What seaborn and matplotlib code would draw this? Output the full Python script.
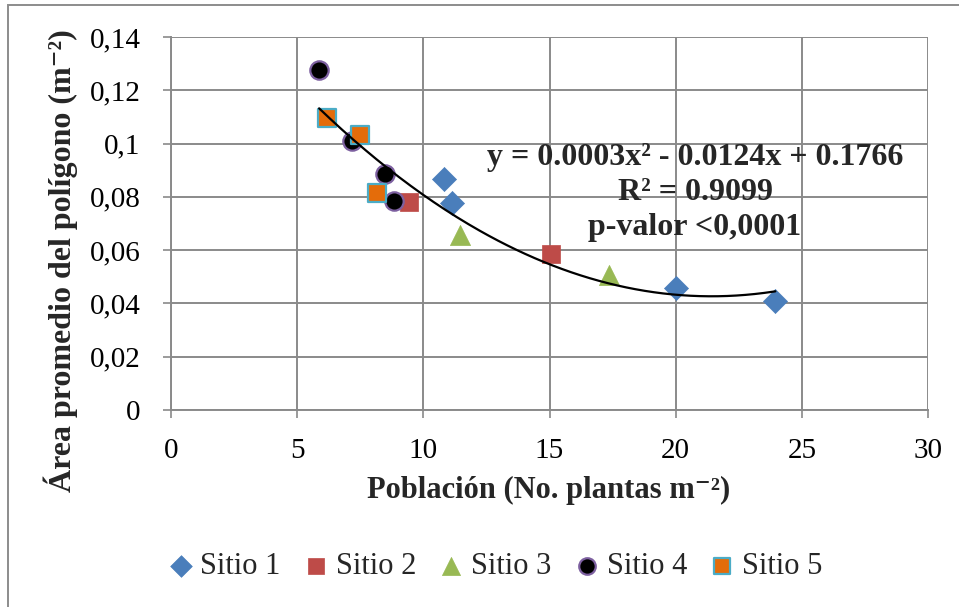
import numpy as np
import pandas as pd
import matplotlib
matplotlib.use("Agg")
import matplotlib.pyplot as plt
from matplotlib.patches import Rectangle
from matplotlib.ticker import FuncFormatter, MultipleLocator
import seaborn as sns

# Population (plants per m2) and mean polygon area (m2) for each site
sitio1_x = [10.8, 11.15, 20.0, 23.95]
sitio1_y = [0.0868, 0.0777, 0.0458, 0.0409]
sitio2_x = [9.45, 15.05]
sitio2_y = [0.0781, 0.0586]
sitio3_x = [11.45, 17.35]
sitio3_y = [0.0655, 0.0505]
sitio4_x = [5.87, 7.18, 8.49, 8.82]
sitio4_y = [0.1277, 0.1010, 0.0884, 0.0786]
sitio5_x = [6.2, 7.5, 8.17]
sitio5_y = [0.1096, 0.1032, 0.0815]

series_names = ["Sitio 1", "Sitio 2", "Sitio 3", "Sitio 4", "Sitio 5"]
xs = [sitio1_x, sitio2_x, sitio3_x, sitio4_x, sitio5_x]
ys = [sitio1_y, sitio2_y, sitio3_y, sitio4_y, sitio5_y]

eq_lines = ["y = 0.0003x² - 0.0124x + 0.1766", "R² = 0.9099", "p-valor <0,0001"]

df = pd.concat(
    [pd.DataFrame({"x": x, "y": y, "sitio": n}) for x, y, n in zip(xs, ys, series_names)],
    ignore_index=True,
)

sns.set_theme(style="white")
serif = ["Liberation Serif", "DejaVu Serif"]
plt.rcParams["font.family"] = serif

fig = plt.figure(figsize=(9.59, 6.07), dpi=100)
ax = fig.add_axes([171 / 959, 1 - 410 / 607, 757 / 959, 373 / 607])

styles = {
    "Sitio 1": dict(marker="D", color="#4A7EBB", edge="#4A7EBB", s=150, lw=0.5),
    "Sitio 2": dict(marker="s", color="#BE4B48", edge="#BE4B48", s=180, lw=0.5),
    "Sitio 3": dict(marker="^", color="#98B954", edge="#98B954", s=210, lw=0.5),
    "Sitio 4": dict(marker="o", color="#000000", edge="#7D60A0", s=175, lw=1.6),
    "Sitio 5": dict(marker="s", color="#E46C0A", edge="#4BACC6", s=170, lw=1.6),
}

for i, name in enumerate(series_names):
    st = styles[name]
    sns.scatterplot(
        data=df[df["sitio"] == name], x="x", y="y", ax=ax,
        marker=st["marker"], color=st["color"], edgecolor=st["edge"],
        s=st["s"], linewidth=st["lw"], label=name, zorder=3 + i,
    )

# Second-order polynomial trend over all sites
coef = np.polyfit(df["x"], df["y"], 2)
xx = np.linspace(df["x"].min(), df["x"].max(), 200)
ax.plot(xx, np.polyval(coef, xx), color="black", lw=1.6, zorder=10)

ax.set_xlim(0, 30)
ax.set_ylim(0, 0.14)
ax.xaxis.set_major_locator(MultipleLocator(5))
ax.yaxis.set_major_locator(MultipleLocator(0.02))


def comma_fmt(v, pos):
    s = f"{v:.2f}".rstrip("0").rstrip(".")
    return s.replace(".", ",")


ax.yaxis.set_major_formatter(FuncFormatter(comma_fmt))
ax.xaxis.set_major_formatter(FuncFormatter(lambda v, p: f"{v:g}"))

grid_c = "#8A8A8A"
ax.grid(True, color=grid_c, lw=1.4)
ax.set_axisbelow(True)
for side in ["top", "right"]:
    ax.spines[side].set_visible(False)
for side in ["left", "bottom"]:
    ax.spines[side].set_color(grid_c)
    ax.spines[side].set_linewidth(1.4)
ax.tick_params(axis="both", direction="out", length=6, width=1.2, color=grid_c,
               labelsize=21, labelcolor="black", bottom=True, left=True)
ax.tick_params(axis="x", pad=14)
ax.tick_params(axis="y", pad=16)
for lab in ax.get_xticklabels() + ax.get_yticklabels():
    lab.set_family(serif)

ax.set_xlabel("Población (No. plantas m⁻²)", fontsize=22, fontweight="bold")
ax.set_ylabel("Área promedio del polígono (m⁻²)", fontsize=23, fontweight="bold")
ax.xaxis.label.set_va("center")
ax.yaxis.label.set_va("center")
ax.xaxis.set_label_coords((549 - 171) / 757, (410 - 490) / 373)
ax.yaxis.set_label_coords((61 - 171) / 757, (410 - 261) / 373)

for k, txt in enumerate(eq_lines):
    ax.text(695 / 959, 1 - (158 + 35 * k) / 607, txt, transform=fig.transFigure,
            ha="center", va="center", fontsize=23, fontweight="bold", zorder=12)

ax.legend(loc="center", bbox_to_anchor=(493 / 959, 1 - 567 / 607), bbox_transform=fig.transFigure,
          ncol=5, frameon=False, prop=dict(family=serif, size=22),
          handletextpad=0.1, columnspacing=0.6, handlelength=1.1, markerscale=0.9)

fig.patches.append(Rectangle((8 / 959, -0.1), 1.2, 1.1 - 5 / 607,
                             transform=fig.transFigure, fill=False,
                             edgecolor="#8C8C8C", lw=1.4, zorder=0))

fig.savefig("out.png", dpi=100)
